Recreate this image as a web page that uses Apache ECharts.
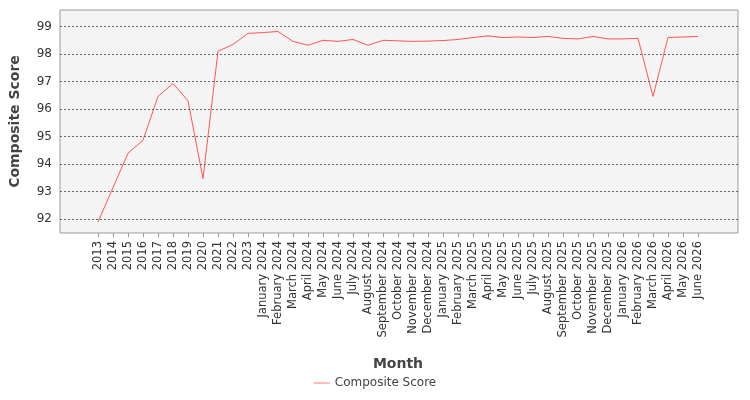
<!DOCTYPE html>
<html><head><meta charset="utf-8">
<script src="https://cdn.jsdelivr.net/npm/echarts@6/dist/echarts.min.js"></script>
<style>body{margin:0}#c{width:750px;height:400px}</style></head>
<body><div id="c"></div>
<script>
const categories = ["2013","2014","2015","2016","2017","2018","2019","2020","2021","2022","2023",
"January 2024","February 2024","March 2024","April 2024","May 2024","June 2024","July 2024","August 2024","September 2024","October 2024","November 2024","December 2024",
"January 2025","February 2025","March 2025","April 2025","May 2025","June 2025","July 2025","August 2025","September 2025","October 2025","November 2025","December 2025",
"January 2026","February 2026","March 2026","April 2026","May 2026","June 2026"];
const compositeScore = [91.9,93.15,94.4,94.87,96.46,96.93,96.3,93.48,98.1,98.35,98.75,
98.78,98.82,98.46,98.32,98.5,98.46,98.53,98.32,98.5,98.48,98.46,98.47,
98.49,98.53,98.6,98.66,98.6,98.62,98.6,98.64,98.57,98.55,98.64,98.55,
98.55,98.57,96.46,98.6,98.62,98.64];
const yTicks = [92,93,94,95,96,97,98,99];
const yMin = 91.5, yMax = 99.6;
const chart = echarts.init(document.getElementById('c'));
const font = 'DejaVu Sans';
chart.setOption({
  animation:false,
  textStyle:{fontFamily:font},
  grid:[
    {left:59,right:12,top:10,bottom:167,show:true,backgroundColor:'#f4f4f4',borderColor:'#999',borderWidth:1},
    {left:98,right:52,top:10,bottom:167}
  ],
  legend:{bottom:6,left:'center',icon:'path://M0,5L20,5L20,6L0,6Z',itemWidth:16,itemHeight:6,
    textStyle:{fontFamily:font,fontSize:12,color:'#444'},data:['Composite Score']},
  xAxis:[
    {type:'value',gridIndex:0,min:0,max:1,show:false},
    {type:'category',gridIndex:1,data:categories,boundaryGap:false,name:'Month',nameLocation:'middle',nameGap:124,
    nameTextStyle:{fontFamily:font,fontSize:14,fontWeight:'bold',color:'#444'},
    axisLine:{show:false},axisTick:{show:true,length:4,lineStyle:{color:'#999'}},
    axisLabel:{rotate:90,interval:0,fontFamily:font,fontSize:11.5,color:'#333'}}
  ],
  yAxis:[
    {type:'value',gridIndex:0,min:yMin,max:yMax,interval:0.5,name:'Composite Score',nameLocation:'middle',nameGap:38,
    nameTextStyle:{fontFamily:font,fontSize:14,fontWeight:'bold',color:'#444'},
    axisLine:{show:false},axisTick:{show:false},splitLine:{show:false},
    axisLabel:{fontFamily:font,fontSize:12,color:'#333',formatter:v=>yTicks.includes(Math.round(v*10)/10)?String(Math.round(v)):''}},
    {type:'value',gridIndex:1,min:yMin,max:yMax,show:false}
  ],
  series:[
    {type:'line',xAxisIndex:0,yAxisIndex:0,data:[],silent:true,
     markLine:{symbol:'none',silent:true,label:{show:false},lineStyle:{color:'#666',type:[2,2],width:1},
       data:yTicks.map(v=>({yAxis:v}))}},
    {name:'Composite Score',type:'line',xAxisIndex:1,yAxisIndex:1,data:compositeScore,symbol:'none',
    lineStyle:{color:'#ff5555',width:1},itemStyle:{color:'#ff5555'}}
  ]
});
</script></body></html>
